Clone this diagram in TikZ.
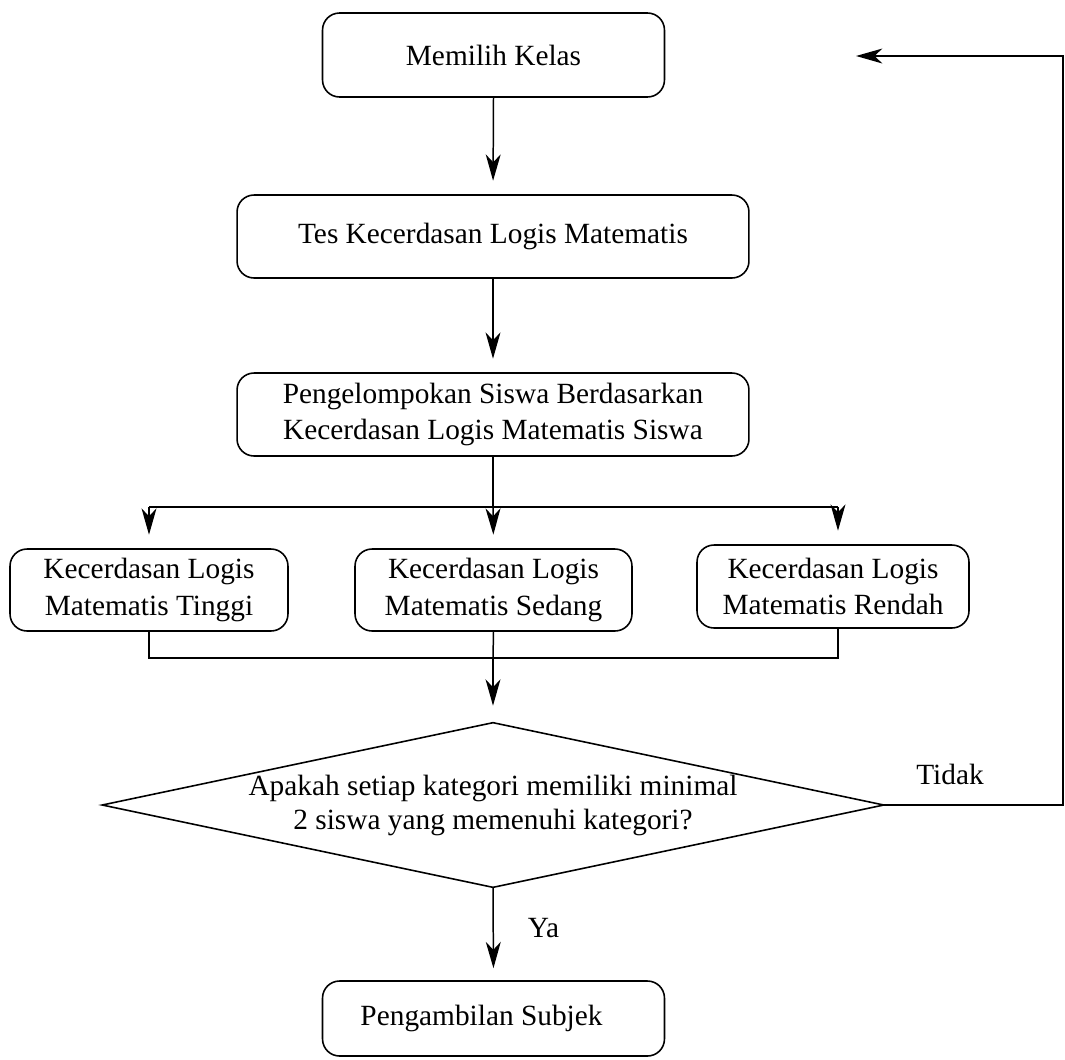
\documentclass[tikz,border=0pt]{standalone}
\usepackage{fontspec}
\setmainfont{Liberation Serif}
\usetikzlibrary{arrows.meta}
\newcommand\fcsize{\fontsize{16.7}{21}\selectfont}
\begin{document}
\begin{tikzpicture}[x=0.02cm,y=-0.02cm,
  box/.style={draw, rounded corners=0.34cm, line width=0.9pt, align=center, inner sep=0pt, font=\fcsize},
  lbl/.style={font=\fcsize, inner sep=0pt, anchor=base},
  conn/.style={line width=0.85pt},
  arr/.style={conn, -{Stealth[length=15pt,width=8.5pt,inset=4.5pt]}, shorten >=0.27cm}]
\useasboundingbox (0,0) rectangle (1065,1059);
% nodes
\node[box, minimum width=6.84cm, minimum height=1.68cm] (n1) at (493.5,55) {Memilih Kelas};
\node[box, minimum width=10.24cm, minimum height=1.66cm] (n2) at (493,236.5) {Tes Kecerdasan Logis Matematis};
\node[box, minimum width=10.24cm, minimum height=1.66cm] (n3) at (493,414.5) {Pengelompokan Siswa Berdasarkan\\Kecerdasan Logis Matematis Siswa};
\node[box, minimum width=5.56cm, minimum height=1.64cm] (k1) at (149,590) {Kecerdasan Logis\\Matematis Tinggi};
\node[box, minimum width=5.54cm, minimum height=1.64cm] (k2) at (493.5,590) {Kecerdasan Logis\\Matematis Sedang};
\node[box, minimum width=5.44cm, minimum height=1.66cm] (k3) at (833,586.5) {Kecerdasan Logis\\Matematis Rendah};
\node[minimum width=15.62cm, minimum height=3.28cm, inner sep=0pt, align=center, font=\fcsize] (d) at (493,805) {\raisebox{0.1cm}{\begin{tabular}{@{}c@{}}Apakah setiap kategori memiliki minimal\\[-2pt]2 siswa yang memenuhi kategori?\end{tabular}}};
\draw[line width=0.9pt] (d.north) -- (d.east) -- (d.south) -- (d.west) -- cycle;
\node[box, minimum width=6.84cm, minimum height=1.5cm] (fin) at (493.5,1018.5) {Pengambilan Subjek\hspace*{0.48cm}};
\node[lbl] (tidak) at (950,784) {Tidak};
\node[lbl] (ya) at (543.5,937) {Ya};
% coordinates
\coordinate (bt) at (493,507);
\coordinate (b1) at (149,507);
\coordinate (b3) at (838,507);
\coordinate (m1) at (149,658);
\coordinate (mt) at (493,658);
\coordinate (m3) at (838,658);
\coordinate (rx) at (1063,805);
\coordinate (ret) at (856,56);
% connectors
\draw[arr] (n1.south) -- (n2.north);
\draw[arr] (n2.south) -- (n3.north);
\draw[conn] (n3.south) -- (bt);
\draw[conn] (b1) -- (b3);
\draw[arr] (b1) -- (b1 |- k1.north);
\draw[arr] (bt) -- (k2.north);
\draw[arr] (b3) -- (b3 |- k3.north);
\draw[conn] (k1.south -| m1) -- (m1) -- (m3) -- (k3.south -| m3);
\draw[conn] (k2.south) -- (mt);
\draw[arr, shorten >=0.34cm] (mt) -- (d.north);
\draw[arr, shorten >=0.24cm] (d.south) -- (fin.north);
\draw[conn, -{Stealth[length=15pt,width=8.5pt,inset=4.5pt]}] (d.east) -- (rx) |- (ret);
\end{tikzpicture}
\end{document}
